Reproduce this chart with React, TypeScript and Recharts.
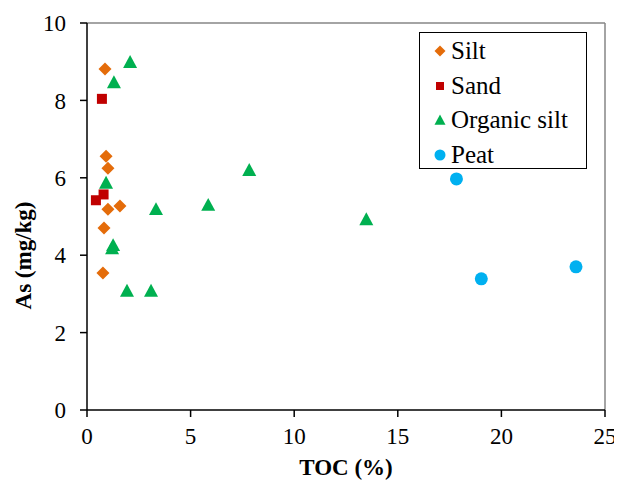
import {
  ScatterChart, Scatter, XAxis, YAxis, ReferenceLine, Legend,
} from "recharts";

const xTicks = [0, 5, 10, 15, 20, 25];
const yTicks = [0, 2, 4, 6, 8, 10];

const siltToc = [0.87, 0.92, 1.01, 1.01, 1.59, 0.82, 0.77];
const siltAs = [8.81, 6.56, 6.25, 5.19, 5.27, 4.7, 3.54];

const sandToc = [0.72, 0.43, 0.8];
const sandAs = [8.04, 5.42, 5.57];

const organicToc = [2.08, 1.3, 0.92, 3.33, 1.26, 1.21, 1.93, 3.09, 5.85, 7.83, 13.48];
const organicAs = [8.99, 8.47, 5.87, 5.19, 4.26, 4.18, 3.08, 3.08, 5.3, 6.2, 4.93];

const peatToc = [17.83, 19.03, 23.6];
const peatAs = [5.97, 3.39, 3.7];

const toPoints = (xs: number[], ys: number[]) => xs.map((x, i) => ({ toc: x, as: ys[i] }));

const COLORS = {
  silt: "#E46C0A",
  sand: "#C00000",
  organic: "#00B050",
  peat: "#00B0F0",
};

const FONT = "Liberation Serif";

const Diamond = ({ cx, cy, fill, r = 6.5 }: any) => (
  <polygon points={`${cx},${cy - r} ${cx + r},${cy} ${cx},${cy + r} ${cx - r},${cy}`} fill={fill} />
);
const Square = ({ cx, cy, fill, r = 5 }: any) => (
  <rect x={cx - r} y={cy - r} width={r * 2} height={r * 2} fill={fill} />
);
const Triangle = ({ cx, cy, fill, r = 7 }: any) => (
  <polygon points={`${cx},${cy - r} ${cx + r},${cy + r * 0.85} ${cx - r},${cy + r * 0.85}`} fill={fill} />
);
const Dot = ({ cx, cy, fill, r = 6.5 }: any) => <circle cx={cx} cy={cy} r={r} fill={fill} />;

const legendItems = [
  { name: "Silt", color: COLORS.silt, Icon: Diamond },
  { name: "Sand", color: COLORS.sand, Icon: Square },
  { name: "Organic silt", color: COLORS.organic, Icon: Triangle },
  { name: "Peat", color: COLORS.peat, Icon: Dot },
];

const LegendBox = () => (
  <div
    style={{
      border: "1.5px solid #000",
      background: "#fff",
      width: 168,
      height: 137,
      boxSizing: "border-box",
      padding: "1px 0 0 12px",
      fontFamily: FONT,
      fontSize: 25,
      color: "#000",
    }}
  >
    {legendItems.map(({ name, color, Icon }) => (
      <div key={name} style={{ display: "flex", alignItems: "center", height: 34.5 }}>
        <svg width={16} height={16} style={{ marginRight: 3 }}>
          <Icon cx={8} cy={8} fill={color} r={name === "Sand" ? 4 : 5.5} />
        </svg>
        <span>{name}</span>
      </div>
    ))}
  </div>
);

const YTitle = ({ viewBox }: any) => {
  const x = viewBox.x + 23;
  const y = viewBox.y + viewBox.height / 2 + 39;
  return (
    <text x={x} y={y} transform={`rotate(-90, ${x}, ${y})`} textAnchor="middle" dominantBaseline="central"
      fontFamily={FONT} fontSize={23} fontWeight="bold" fill="#000">
      As (mg/kg)
    </text>
  );
};

const XTitle = ({ viewBox }: any) => {
  const x = viewBox.x + viewBox.width / 2;
  const y = viewBox.y + 57;
  return (
    <text x={x} y={y} textAnchor="middle" dominantBaseline="central"
      fontFamily={FONT} fontSize={23} fontWeight="bold" fill="#000">
      TOC (%)
    </text>
  );
};

export default function App() {
  const tick = { fontFamily: FONT, fontSize: 23, fill: "#000" };
  return (
    <div className="toc-chart" style={{ margin: -8, width: 622, height: 488, fontFamily: FONT }}>
      <style>{`.toc-chart, .toc-chart text, .toc-chart tspan, .toc-chart span { font-family: "Liberation Serif", serif !important; }`}</style>
      <ScatterChart width={622} height={488} margin={{ top: 23, right: 17, bottom: 0, left: 0 }}>
        <ReferenceLine y={10} stroke="#868686" strokeWidth={1.5} ifOverflow="visible" />
        <ReferenceLine x={25} stroke="#868686" strokeWidth={1.5} ifOverflow="visible" />
        <XAxis
          type="number"
          dataKey="toc"
          domain={[0, 25]}
          ticks={xTicks}
          height={78}
          tick={tick}
          tickSize={7}
          tickMargin={11}
          axisLine={{ stroke: "#000", strokeWidth: 1.5 }}
          tickLine={{ stroke: "#000", strokeWidth: 1.5 }}
          label={<XTitle />}
        />
        <YAxis
          type="number"
          dataKey="as"
          domain={[0, 10]}
          ticks={yTicks}
          width={87}
          tick={tick}
          tickSize={7}
          tickMargin={14}
          axisLine={{ stroke: "#000", strokeWidth: 1.5 }}
          tickLine={{ stroke: "#000", strokeWidth: 1.5 }}
          label={<YTitle />}
        />
        <Legend
          layout="vertical"
          verticalAlign="middle"
          align="center"
          content={<LegendBox />}
          wrapperStyle={{ top: 32, left: 419, width: 168, height: 137 }}
        />
        <Scatter name="Silt" data={toPoints(siltToc, siltAs)} fill={COLORS.silt} shape={<Diamond />} isAnimationActive={false} />
        <Scatter name="Sand" data={toPoints(sandToc, sandAs)} fill={COLORS.sand} shape={<Square />} isAnimationActive={false} />
        <Scatter name="Organic silt" data={toPoints(organicToc, organicAs)} fill={COLORS.organic} shape={<Triangle />} isAnimationActive={false} />
        <Scatter name="Peat" data={toPoints(peatToc, peatAs)} fill={COLORS.peat} shape={<Dot />} isAnimationActive={false} />
      </ScatterChart>
    </div>
  );
}
